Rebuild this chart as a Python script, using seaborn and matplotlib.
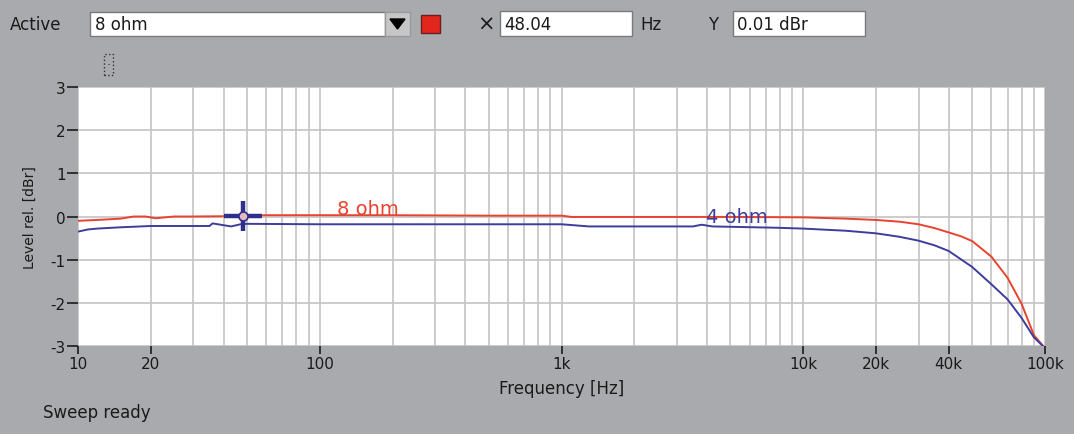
import numpy as np
import pandas as pd
import matplotlib
matplotlib.use("Agg")
import matplotlib.pyplot as plt
import seaborn as sns
from matplotlib.patches import Rectangle, Polygon
from matplotlib.ticker import FixedLocator, NullFormatter

# ---------------- data ----------------
freq_8 = [10, 12, 15, 17, 19, 21, 25, 30, 48, 60, 100, 200, 500, 1000, 1100,
          2000, 5000, 10000, 15000, 20000, 25000, 30000, 35000, 40000, 45000,
          50000, 60000, 70000, 80000, 90000, 100000]
level_8 = [-0.10, -0.08, -0.05, 0.00, 0.00, -0.04, 0.00, 0.00, 0.01, 0.03, 0.03,
           0.03, 0.02, 0.02, -0.01, -0.01, -0.01, -0.02, -0.05, -0.08, -0.12,
           -0.18, -0.27, -0.37, -0.46, -0.57, -0.93, -1.42, -2.02, -2.75, -3.05]

freq_4 = [10, 11, 12, 15, 20, 35, 36, 43, 47, 50, 100, 500, 1000, 1300, 3500,
          3800, 4200, 7700, 10000, 15000, 20000, 25000, 30000, 35000, 40000,
          50000, 60000, 70000, 80000, 90000, 100000]
level_4 = [-0.35, -0.30, -0.28, -0.25, -0.22, -0.22, -0.16, -0.23, -0.18, -0.17,
           -0.18, -0.18, -0.18, -0.23, -0.23, -0.19, -0.23, -0.26, -0.28, -0.33,
           -0.39, -0.47, -0.56, -0.67, -0.80, -1.17, -1.57, -1.92, -2.35, -2.80,
           -3.05]

series_names = ["8 ohm", "4 ohm"]
series_colors = ["#E8432E", "#3D3D9C"]
x_tick_values = [10, 20, 100, 1000, 10000, 20000, 40000, 100000]
x_tick_labels = ["10", "20", "100", "1k", "10k", "20k", "40k", "100k"]
y_tick_values = [-3, -2, -1, 0, 1, 2, 3]
y_tick_labels = ["-3", "-2", "-1", "0", "1", "2", "3"]
cursor_x = 48.04
cursor_y = 0.01

df = pd.concat([
    pd.DataFrame({"freq": freq_8, "level": level_8, "series": series_names[0]}),
    pd.DataFrame({"freq": freq_4, "level": level_4, "series": series_names[1]}),
], ignore_index=True)

# ---------------- style ----------------
sns.set_theme(style="white")
plt.rcParams['font.family'] = ['DejaVu Sans']

BG = "#A8AAAD"
TXT = "#1A1A1A"
W, H = 1074, 435
fig = plt.figure(figsize=(10.74, 4.35), dpi=100, facecolor=BG)


def fx(x):
    return x / W


def fy(y):
    return 1 - y / H


ax = fig.add_axes([fx(78), fy(347), fx(1045) - fx(78), fy(88) - fy(347)])
ax.set_facecolor("white")

sns.lineplot(data=df, x="freq", y="level", hue="series",
             palette=dict(zip(series_names, series_colors)),
             estimator=None, legend=False, ax=ax, linewidth=1.4)

ax.set_xscale("log")
ax.set_xlim(10, 100000)
ax.set_ylim(-3, 3)

# grid at every 1..9 multiple
minor_locs = [m * 10 ** d for d in range(1, 5) for m in range(2, 10)
              if m * 10 ** d not in x_tick_values]
ax.xaxis.set_major_locator(FixedLocator(x_tick_values))
ax.set_xticklabels(x_tick_labels)
ax.xaxis.set_minor_locator(FixedLocator(minor_locs))
ax.xaxis.set_minor_formatter(NullFormatter())
ax.set_yticks(y_tick_values)
ax.set_yticklabels(y_tick_labels)

ax.grid(True, which="both", axis="x", color="#C4C4C4", linewidth=1.2)
ax.grid(True, which="major", axis="y", color="#C4C4C4", linewidth=1.2)
for s in ax.spines.values():
    s.set_visible(False)

ax.tick_params(axis="x", which="major", direction="out", length=6, width=1.2,
               color=TXT, labelsize=11, labelcolor=TXT, pad=1, bottom=True)
ax.tick_params(axis="x", which="minor", length=0)
ax.tick_params(axis="y", direction="out", length=8, width=1.2, color=TXT,
               labelsize=11, labelcolor=TXT, pad=1, left=True)

ax.set_xlabel("Frequency [Hz]", fontsize=12, color=TXT, labelpad=6)
ax.set_ylabel("Level rel. [dBr]", fontsize=10, color=TXT, labelpad=10)

# curve labels
ax.text(118, 0.18, series_names[0], color=series_colors[0], fontsize=14,
        ha="left", va="center")
ax.text(3950, -0.01, series_names[1], color=series_colors[1], fontsize=14,
        ha="left", va="center")

# cursor crosshair
ax.plot([cursor_x], [cursor_y], marker="_", markersize=27, mew=3.2,
        color="#2E2E8E", zorder=5)
ax.plot([cursor_x], [cursor_y], marker="|", markersize=21, mew=3.2,
        color="#2E2E8E", zorder=5)
ax.plot([cursor_x], [cursor_y], marker="o", markersize=6.5, mfc="#E7B9BE",
        mec="#2E2E8E", mew=1.2, zorder=6)

# ---------------- UI chrome ----------------
def rect(x0, y0, x1, y1, **kw):
    r = Rectangle((fx(x0), fy(y1)), fx(x1) - fx(x0), fy(y0) - fy(y1),
                  transform=fig.transFigure, **kw)
    fig.patches.append(r)


fig.text(fx(10), fy(25), "Active", fontsize=12, color=TXT, va="center")
rect(90, 13, 385, 37, facecolor="white", edgecolor="#7A7A7A", linewidth=1)
fig.text(fx(95), fy(25), "8 ohm", fontsize=12, color=TXT, va="center")
rect(385, 13, 410, 37, facecolor="#C6C6C6", edgecolor="#9A9A9A", linewidth=1)
tri = Polygon([(fx(390), fy(20)), (fx(405), fy(20)), (fx(397.5), fy(30))],
              closed=True, transform=fig.transFigure, facecolor="black",
              edgecolor="black")
fig.patches.append(tri)
rect(421, 16, 440, 34, facecolor="#E3261C", edgecolor="#6A2020", linewidth=1)

fig.text(fx(486), fy(25), "×", fontsize=15, color=TXT, va="center",
         ha="center")
rect(500, 12, 632, 37, facecolor="white", edgecolor="#7A7A7A", linewidth=1)
fig.text(fx(504), fy(25), "48.04", fontsize=12, color=TXT, va="center")
fig.text(fx(640), fy(25), "Hz", fontsize=12, color=TXT, va="center")

fig.text(fx(713), fy(25), "Y", fontsize=12, color=TXT, va="center",
         ha="center")
rect(733, 12, 865, 37, facecolor="white", edgecolor="#7A7A7A", linewidth=1)
fig.text(fx(737), fy(25), "0.01 dBr", fontsize=12, color=TXT, va="center")

rect(104, 55, 113, 76, facecolor="none", edgecolor="#333333", linewidth=1,
     linestyle=":")
fig.text(fx(108.5), fy(66), "·", fontsize=9, color="#333333", ha="center",
         va="center")

fig.text(fx(43), fy(413), "Sweep ready", fontsize=12, color=TXT, va="center")

fig.savefig("out.png", dpi=100, facecolor=BG)
